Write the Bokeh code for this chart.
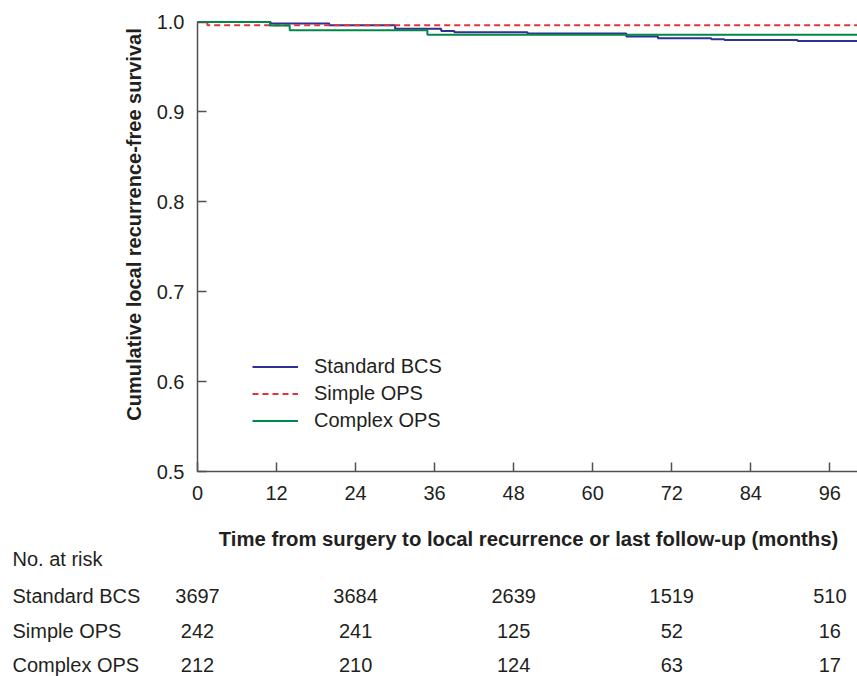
import math
from bokeh.plotting import figure
from bokeh.models import (Range1d, ColumnDataSource, Legend, LegendItem,
                          FixedTicker, PrintfTickFormatter)
from bokeh.core.properties import value
from bokeh.embed import file_html
from bokeh.resources import INLINE

# ---------------- data ----------------
x_ticks = [0, 12, 24, 36, 48, 60, 72, 84, 96]
y_ticks = [0.5, 0.6, 0.7, 0.8, 0.9, 1.0]

bcs_t = [0, 11.1, 20.0, 30.0, 37.0, 39.0, 50.1, 65.1, 69.9, 78.0, 80.0, 91.1, 100.2]
bcs_s = [1.0, 0.9982, 0.9963, 0.9926, 0.9900, 0.9886, 0.9871, 0.9838, 0.9819,
         0.9808, 0.9800, 0.9789, 0.9789]
simple_t = [0, 1.5, 100.2]
simple_s = [1.0, 0.9963, 0.9963]
complex_t = [0, 11.0, 14.0, 34.9, 100.2]
complex_s = [1.0, 0.9960, 0.9908, 0.9858, 0.9858]

risk_months = [0, 24, 48, 72, 96]
risk_groups = ["Standard BCS", "Simple OPS", "Complex OPS"]
risk_bcs = [3697, 3684, 2639, 1519, 510]
risk_simple = [242, 241, 125, 52, 16]
risk_complex = [212, 210, 124, 63, 17]

# ---------------- geometry (pixels of the page) ----------------
W, H = 857, 676
AX_X = 197            # pixel of month 0
X_END = 100.2         # month at the right edge
PXM = (W - AX_X) / X_END
Y_TOP_PX, Y_BOT_PX = 21.5, 471.0   # pixels of 1.0 and 0.5
PXV = (Y_BOT_PX - Y_TOP_PX) / 0.5
FONT = "Liberation Sans"
TXT = "#231F20"


def mx(px):           # pixel x -> month
    return (px - AX_X) / PXM


def vy(py):           # pixel y -> survival value
    return 1.0 - (py - Y_TOP_PX) / PXV


p = figure(width=W, height=H, x_range=Range1d(mx(0), mx(W)),
           y_range=Range1d(vy(H), vy(0)),
           output_backend="svg", toolbar_location=None,
           min_border_left=0, min_border_right=0, min_border_top=0,
           min_border_bottom=0)
p.grid.visible = False
p.outline_line_color = None
p.background_fill_color = "white"
p.border_fill_color = "white"

for ax in (p.xaxis[0], p.yaxis[0]):
    ax.axis_line_color = "#505050"
    ax.axis_line_width = 1.5
    ax.major_tick_line_color = "#505050"
    ax.major_tick_line_width = 1.5
    ax.major_tick_in = 9
    ax.major_tick_out = 0
    ax.minor_tick_line_color = None
    ax.major_label_text_font = FONT
    ax.major_label_text_font_size = "20px"
    ax.major_label_text_color = TXT

p.xaxis.fixed_location = 0.5
p.xaxis.bounds = (0, X_END)
p.yaxis.fixed_location = 0
p.yaxis.bounds = (0.5, 1.0)
p.xaxis.major_label_standoff = 14
p.yaxis.major_label_standoff = 13
p.xaxis.ticker = FixedTicker(ticks=x_ticks)
p.yaxis.ticker = FixedTicker(ticks=y_ticks)
p.yaxis.formatter = PrintfTickFormatter(format="%.1f")

r_bcs = p.step(bcs_t, bcs_s, mode="after", line_color="#2E3192", line_width=2)
r_simple = p.step(simple_t, simple_s, mode="after", line_color="#E3343B",
                  line_width=2, line_dash="6 4")
r_complex = p.step(complex_t, complex_s, mode="after", line_color="#00874A",
                   line_width=2)

legend = Legend(items=[LegendItem(label="Standard BCS", renderers=[r_bcs]),
                       LegendItem(label="Simple OPS", renderers=[r_simple]),
                       LegendItem(label="Complex OPS", renderers=[r_complex])],
                location=(252, 242), orientation="vertical")
legend.label_text_font = FONT
legend.label_text_font_size = "20px"
legend.label_text_color = TXT
legend.glyph_width = 46
legend.glyph_height = 27
legend.label_height = 27
legend.label_standoff = 16
legend.spacing = 0
legend.padding = 0
legend.margin = 0
legend.border_line_alpha = 0
legend.background_fill_alpha = 0
p.add_layout(legend)

# axis titles
p.text(x=[mx(133.5)], y=[vy(224)], text=["Cumulative local recurrence-free survival"],
       angle=math.pi / 2, text_align="center", text_baseline="middle",
       text_font=value(FONT), text_font_size=value("20px"), text_font_style="bold",
       text_color=TXT)
p.text(x=[mx(528)], y=[vy(538.5)],
       text=["Time from surgery to local recurrence or last follow-up (months)"],
       text_align="center", text_baseline="middle",
       text_font=value(FONT), text_font_size=value("20.3px"), text_font_style="bold",
       text_color=TXT)

# number-at-risk table
label_x = mx(12)
p.text(x=[label_x], y=[vy(558)], text=["No. at risk"], text_align="left",
       text_baseline="middle", text_font=value(FONT),
       text_font_size=value("20px"), text_color=TXT)
row_y = [vy(595), vy(630.5), vy(664.5)]
p.text(x=[label_x] * 3, y=row_y, text=risk_groups, text_align="left",
       text_baseline="middle", text_font=value(FONT),
       text_font_size=value("20px"), text_color=TXT)

xs, ys, ts = [], [], []
for vals, ry in zip([risk_bcs, risk_simple, risk_complex], row_y):
    for m, v in zip(risk_months, vals):
        xs.append(m)
        ys.append(ry)
        ts.append(str(v))
src = ColumnDataSource(dict(x=xs, y=ys, t=ts))
p.text(x="x", y="y", text="t", source=src, text_align="center",
       text_baseline="middle", text_font=value(FONT),
       text_font_size=value("20px"), text_color=TXT)

open("out.html", "w").write(file_html(p, INLINE))
